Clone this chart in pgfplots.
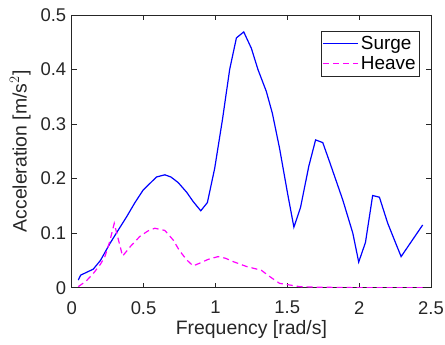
\documentclass[border=0pt]{standalone}
\usepackage{pgfplots}
\pgfplotsset{compat=1.18}
\usepackage{fontspec}
\setmainfont{Liberation Sans}
\definecolor{axgray}{gray}{0.15}
\begin{document}
\begin{tikzpicture}
\useasboundingbox (0,0) rectangle (445bp,345bp);
\begin{axis}[
  at={(71.7bp,57.3bp)}, anchor=south west,
  width=359.3bp, height=272.7bp, scale only axis,
  xmin=0, xmax=2.5, ymin=0, ymax=0.5,
  xtick={0,0.5,1,1.5,2,2.5},
  xticklabels={0,0.5,1,1.5,2,2.5},
  ytick={0,0.1,0.2,0.3,0.4,0.5},
  yticklabels={0,0.1,0.2,0.3,0.4,0.5},
  tick align=inside, tick style={axgray, line width=0.6bp},
  major tick length=5bp,
  axis line style={axgray, line width=0.6bp},
  ticklabel style={font=\fontsize{18.5}{21}\selectfont, text=axgray},
  xticklabel style={yshift=-10bp},
  yticklabel style={xshift=-2bp},
  label style={font=\fontsize{19.5}{23}\selectfont, text=axgray},
  xlabel={Frequency [rad/s]},
  ylabel={Acceleration [m/s$^2$]},
  xlabel style={yshift=1bp},
  ylabel style={yshift=3bp},
  legend style={at={(axis description cs:0.969,0.94)}, anchor=north east,
    draw=axgray, font=\fontsize{19}{22}\selectfont,
    row sep=1bp, inner xsep=2bp, inner ysep=3bp,
    /tikz/every even column/.append style={column sep=1bp}},
  legend cell align=left,
  legend image code/.code={\draw[#1, line width=1.1bp] (0bp,0bp) -- (35bp,0bp);},
]
\addplot[color={rgb,255:red,0;green,0;blue,255}, line width=1.2bp] coordinates {
(0.046,0.014) (0.062,0.023) (0.15,0.034) (0.2,0.05) (0.266,0.081) (0.32,0.104)
(0.382,0.130) (0.44,0.156) (0.497,0.179) (0.59,0.203) (0.648,0.207) (0.69,0.203)
(0.74,0.193) (0.8,0.175) (0.845,0.158) (0.898,0.141) (0.944,0.156) (0.995,0.219)
(1.05,0.31) (1.099,0.40) (1.146,0.458) (1.197,0.469) (1.25,0.439) (1.296,0.40)
(1.354,0.36) (1.396,0.32) (1.446,0.256) (1.504,0.170) (1.546,0.111) (1.592,0.147)
(1.65,0.223) (1.697,0.271) (1.747,0.266) (1.794,0.231) (1.886,0.161) (1.956,0.10)
(1.997,0.047) (2.044,0.083) (2.094,0.169) (2.141,0.166) (2.199,0.118) (2.292,0.057)
(2.442,0.115)
};
\addlegendentry{Surge}
\addplot[color={rgb,255:red,255;green,0;blue,255}, line width=1.2bp, dash pattern=on 6bp off 4bp] coordinates {
(0.046,0.002) (0.1,0.012) (0.15,0.026) (0.2,0.043) (0.231,0.057) (0.265,0.085) (0.296,0.118)
(0.354,0.058) (0.41,0.076) (0.474,0.094) (0.53,0.104) (0.578,0.109) (0.648,0.105)
(0.706,0.0875) (0.75,0.068) (0.80,0.051) (0.845,0.040) (0.891,0.045) (0.95,0.052)
(1.018,0.057) (1.07,0.054) (1.122,0.048) (1.215,0.039) (1.319,0.032) (1.38,0.02)
(1.446,0.008) (1.585,0.002) (1.7,0.001) (2.0,0.0) (2.45,0.0)
};
\addlegendentry{Heave}
\end{axis}
\end{tikzpicture}
\end{document}
